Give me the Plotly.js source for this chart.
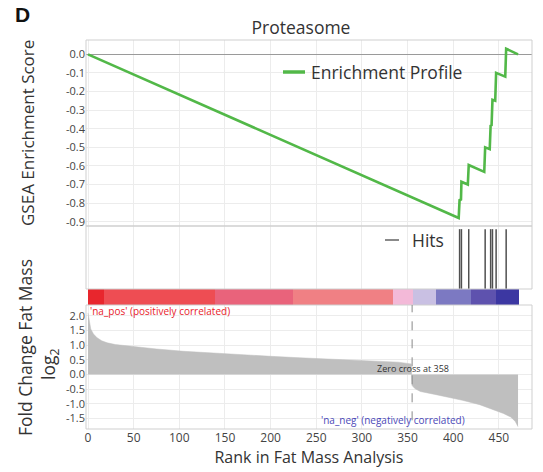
<!DOCTYPE html>
<html><head><meta charset="utf-8">
<script src="https://cdn.plot.ly/plotly-3.0.1.min.js"></script>
<style>html,body{margin:0;padding:0;background:#fff;} #chart{width:543px;height:472px;}</style>
</head><body><div id="chart"></div>
<script>
// ---- Data ----
const esRank  = [0, 406, 407, 408.5, 409, 416, 417, 434, 435, 440, 441, 442, 443, 446, 447, 457, 458, 471];
const esScore = [0, -0.88, -0.78, -0.785, -0.685, -0.70, -0.595, -0.632, -0.50, -0.51, -0.38, -0.385, -0.245, -0.25, -0.10, -0.12, 0.03, 0.0];

const hitRanks = [407, 409, 417, 435, 441, 443, 447, 458];

const fcRank  = [0, 1, 3, 6, 10, 15, 21, 30, 50, 75, 105, 130, 160, 200, 232, 270, 309, 340, 354, 355, 358, 364, 380, 393, 410, 429, 445, 455, 463, 468, 471];
const fcValue = [2.1, 1.85, 1.55, 1.38, 1.25, 1.15, 1.08, 1.02, 0.95, 0.87, 0.79, 0.74, 0.69, 0.62, 0.57, 0.52, 0.47, 0.42, 0.36, -0.38, -0.48, -0.58, -0.68, -0.76, -0.88, -1.03, -1.2, -1.33, -1.45, -1.6, -1.78];

const cbStart  = [0, 17, 139, 224, 334, 356, 381, 419, 447];
const cbEnd    = [17, 139, 224, 334, 356, 381, 419, 447, 472];
const cbColors = ['#e8262d', '#ee4d53', '#e9637b', '#f08084', '#f3b9d8', '#c9c0e3', '#7c79c2', '#5e52ae', '#3c37a2'];

const xTicks  = [0, 50, 100, 150, 200, 250, 300, 350, 400, 450];
const esTicks = [0.0, -0.1, -0.2, -0.3, -0.4, -0.5, -0.6, -0.7, -0.8, -0.9];
const fcTicks = [2.0, 1.5, 1.0, 0.5, 0.0, -0.5, -1.0, -1.5];

const zeroCross = 355;
const zeroCrossLabel = 'Zero cross at 358';

// ---- Layout helpers (pixel -> paper) ----
const W = 543, H = 472, L = 86, R = 11, T = 40, B = 43;
const PW = W - L - R, PH = H - T - B;
const px = x => (x - L) / PW;
const py = y => (H - B - y) / PH;

const FONT = '"Open Sans", "Noto Sans", sans-serif';
const GRID = '#ececec';
const BORDER = '#cfcfcf';

const traces = [
  {
    type: 'scatter', mode: 'lines', name: 'Enrichment Profile',
    x: esRank, y: esScore, xaxis: 'x', yaxis: 'y',
    line: {color: '#52b848', width: 2.6}, showlegend: false, hoverinfo: 'skip'
  },
  {
    type: 'scatter', mode: 'lines', name: 'Hits',
    x: hitRanks.flatMap(h => [h, h, null]),
    y: hitRanks.flatMap(h => [0, 0.95, null]),
    xaxis: 'x', yaxis: 'y2',
    line: {color: '#505050', width: 1.5}, showlegend: false, hoverinfo: 'skip'
  },
  {
    type: 'bar', name: 'ranking',
    x: cbStart.map((s, i) => (s + cbEnd[i]) / 2),
    width: cbStart.map((s, i) => cbEnd[i] - s),
    y: cbStart.map(() => 1), base: 0,
    xaxis: 'x', yaxis: 'y3',
    marker: {color: cbColors, line: {width: 0}}, showlegend: false, hoverinfo: 'skip'
  },
  {
    type: 'scatter', mode: 'lines', name: 'log2 FC',
    x: fcRank, y: fcValue, xaxis: 'x', yaxis: 'y4',
    fill: 'tozeroy', fillcolor: '#bfbfbf',
    line: {color: '#bfbfbf', width: 0.5}, showlegend: false, hoverinfo: 'skip'
  }
];

const tickFont = {family: FONT, size: 12, color: '#444'};
const tickFontSmall = {family: FONT, size: 11, color: '#444'};

const layout = {
  width: W, height: H,
  margin: {l: L, r: R, t: T, b: B},
  paper_bgcolor: '#fff', plot_bgcolor: '#fff',
  font: {family: FONT, color: '#333'},
  showlegend: false,
  bargap: 0,
  title: {
    text: 'Proteasome', font: {family: FONT, size: 17.5, color: '#333'},
    xref: 'paper', x: px(301), xanchor: 'center',
    yref: 'container', y: 1 - 28 / H, yanchor: 'middle'
  },
  xaxis: {
    anchor: 'y4', range: [-2.2, 486.3],
    tickvals: xTicks, ticktext: xTicks.map(String),
    tickfont: tickFont, ticks: '', showgrid: true, gridcolor: GRID,
    zeroline: false, showline: false,
    title: {text: 'Rank in Fat Mass Analysis', font: {family: FONT, size: 16, color: '#333'}, standoff: 4}
  },
  yaxis: {
    domain: [py(226), 1], range: [-0.923, 0.077], anchor: 'x',
    tickvals: esTicks, ticktext: esTicks.map(v => v.toFixed(1)),
    tickfont: tickFontSmall, ticks: '', showgrid: true, gridcolor: GRID,
    zeroline: true, zerolinecolor: '#9a9a9a', zerolinewidth: 1, showline: false
  },
  yaxis2: {
    domain: [py(289), py(226)], range: [0, 1], anchor: 'x',
    showticklabels: false, ticks: '', showgrid: false, zeroline: false
  },
  yaxis3: {
    domain: [py(305), py(289)], range: [0, 1], anchor: 'x',
    showticklabels: false, ticks: '', showgrid: false, zeroline: false
  },
  yaxis4: {
    domain: [0, py(305)], range: [-1.86, 2.37], anchor: 'x',
    tickvals: fcTicks, ticktext: fcTicks.map(v => v.toFixed(1)),
    tickfont: tickFontSmall, ticks: '', showgrid: true, gridcolor: GRID,
    zeroline: false, showline: false
  },
  shapes: [
    // panel frames
    {type: 'rect', xref: 'x domain', yref: 'y domain', x0: 0, x1: 1, y0: 0, y1: 1, line: {color: BORDER, width: 1}},
    {type: 'rect', xref: 'x domain', yref: 'y2 domain', x0: 0, x1: 1, y0: 0, y1: 1, line: {color: BORDER, width: 1}},
    {type: 'rect', xref: 'x domain', yref: 'y4 domain', x0: 0, x1: 1, y0: 0, y1: 1, line: {color: BORDER, width: 1}},
    // zero-cross dashed marker
    {type: 'line', xref: 'x', yref: 'y4 domain', x0: zeroCross, x1: zeroCross, y0: 0.07, y1: 1,
     line: {color: '#888', width: 1, dash: 'dash'}},
    // legend swatches
    {type: 'line', xref: 'paper', yref: 'paper', x0: px(283), x1: px(305), y0: py(72), y1: py(72),
     line: {color: '#52b848', width: 3.5}},
    {type: 'line', xref: 'paper', yref: 'paper', x0: px(385), x1: px(399), y0: py(240), y1: py(240),
     line: {color: '#8a8a8a', width: 2}}
  ],
  annotations: [
    {text: '<b>D</b>', xref: 'paper', yref: 'paper', x: px(22), y: py(15), xanchor: 'center', yanchor: 'middle',
     showarrow: false, font: {family: '"Liberation Sans", Arial, sans-serif', size: 21, color: '#111'}},
    {text: 'GSEA Enrichment Score', xref: 'paper', yref: 'paper', x: px(27), y: py(133), textangle: -90,
     xanchor: 'center', yanchor: 'middle', showarrow: false, font: {family: FONT, size: 17, color: '#333'}},
    {text: 'Fold Change Fat Mass', xref: 'paper', yref: 'paper', x: px(25), y: py(348), textangle: -90,
     xanchor: 'center', yanchor: 'middle', showarrow: false, font: {family: FONT, size: 17.5, color: '#333'}},
    {text: 'log<sub>2</sub>', xref: 'paper', yref: 'paper', x: px(49), y: py(365), textangle: -90,
     xanchor: 'center', yanchor: 'middle', showarrow: false, font: {family: FONT, size: 17.5, color: '#333'}},
    {text: 'Enrichment Profile', xref: 'paper', yref: 'paper', x: px(309), y: py(72),
     xanchor: 'left', yanchor: 'middle', showarrow: false, font: {family: FONT, size: 17.5, color: '#333'}},
    {text: 'Hits', xref: 'paper', yref: 'paper', x: px(410), y: py(240),
     xanchor: 'left', yanchor: 'middle', showarrow: false, font: {family: FONT, size: 17.5, color: '#333'}},
    {text: "'na_pos' (positively correlated)", xref: 'x', yref: 'y4', x: 0, y: 2.17,
     xanchor: 'left', yanchor: 'middle', showarrow: false, font: {family: FONT, size: 10, color: '#e8202a'}},
    {text: "'na_neg' (negatively correlated)", xref: 'x', yref: 'y4', x: 334, y: -1.55,
     xanchor: 'center', yanchor: 'middle', showarrow: false, font: {family: FONT, size: 10, color: '#4a48b8'}},
    {text: zeroCrossLabel, xref: 'x', yref: 'y4', x: zeroCross + 1, y: 0.22,
     xanchor: 'center', yanchor: 'middle', showarrow: false, font: {family: FONT, size: 9, color: '#333'}}
  ]
};

Plotly.newPlot('chart', traces, layout, {staticPlot: true, displayModeBar: false});
</script>
</body></html>
